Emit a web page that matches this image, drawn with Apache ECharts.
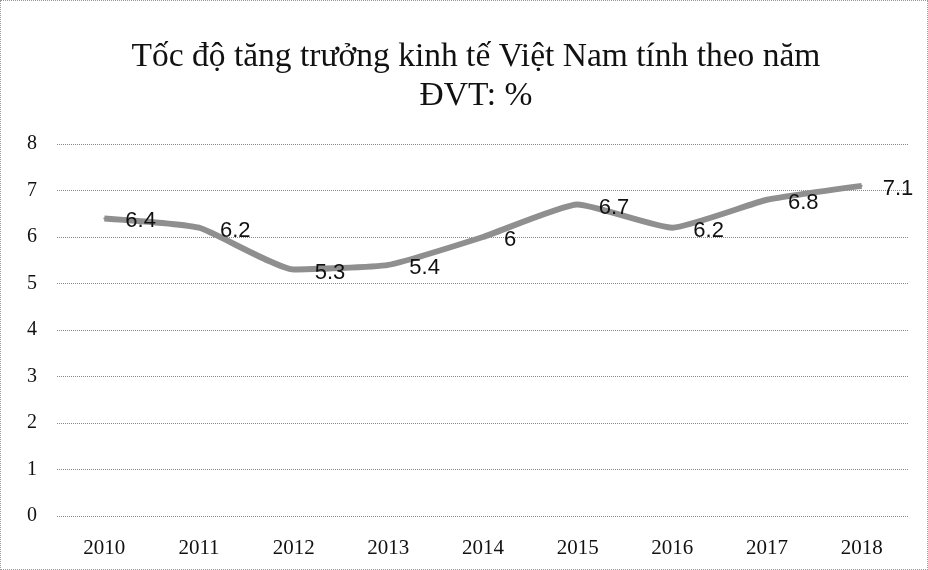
<!DOCTYPE html>
<html>
<head>
<meta charset="utf-8">
<script src="https://cdn.jsdelivr.net/npm/echarts@6/dist/echarts.min.js"></script>
<style>
  html, body {margin: 0; padding: 0; background: #fff;}
  #chart {width: 928px; height: 570px; box-sizing: border-box; border: 1px dotted #999;}
</style>
</head>
<body>
<div id="chart"></div>
<script>
const years = ['2010', '2011', '2012', '2013', '2014', '2015', '2016', '2017', '2018']
const growth = [6.4, 6.2, 5.3, 5.4, 6, 6.7, 6.2, 6.8, 7.1]
const yTicks = [0, 1, 2, 3, 4, 5, 6, 7, 8]

const myChart = echarts.init(document.getElementById('chart'))
myChart.setOption({
  animation: false,
  title: {
    text: 'Tốc độ tăng trưởng kinh tế Việt Nam tính theo năm\nĐVT: %',
    left: 470,
    textAlign: 'center',
    top: 32,
    textStyle: {
      fontFamily: 'Liberation Serif',
      fontWeight: 'normal',
      fontSize: 33.5,
      lineHeight: 39,
      color: '#111'
    }
  },
  grid: {left: 56, right: 18, top: 143, bottom: 53},
  xAxis: {
    type: 'category',
    data: years,
    boundaryGap: true,
    axisLine: {show: false},
    axisTick: {show: false},
    axisLabel: {
      margin: 22,
      fontFamily: 'Liberation Serif',
      fontSize: 21,
      color: '#111'
    }
  },
  yAxis: {
    type: 'value',
    min: yTicks[0],
    max: yTicks[yTicks.length - 1],
    interval: 1,
    axisLine: {show: false},
    axisTick: {show: false},
    splitLine: {lineStyle: {color: '#888', type: 'dotted', width: 1}},
    axisLabel: {
      margin: 20,
      fontFamily: 'Liberation Serif',
      fontSize: 20,
      color: '#111'
    }
  },
  series: [{
    type: 'line',
    data: growth,
    smooth: 0.15,
    symbol: 'circle',
    symbolSize: 2,
    showSymbol: true,
    itemStyle: {color: '#8f8f8f'},
    lineStyle: {color: '#8f8f8f', width: 6},
    label: {
      show: true,
      position: 'right',
      distance: 20,
      offset: [0, 3],
      fontFamily: 'Liberation Sans',
      fontSize: 22,
      color: '#111'
    }
  }]
})
</script>
</body>
</html>
